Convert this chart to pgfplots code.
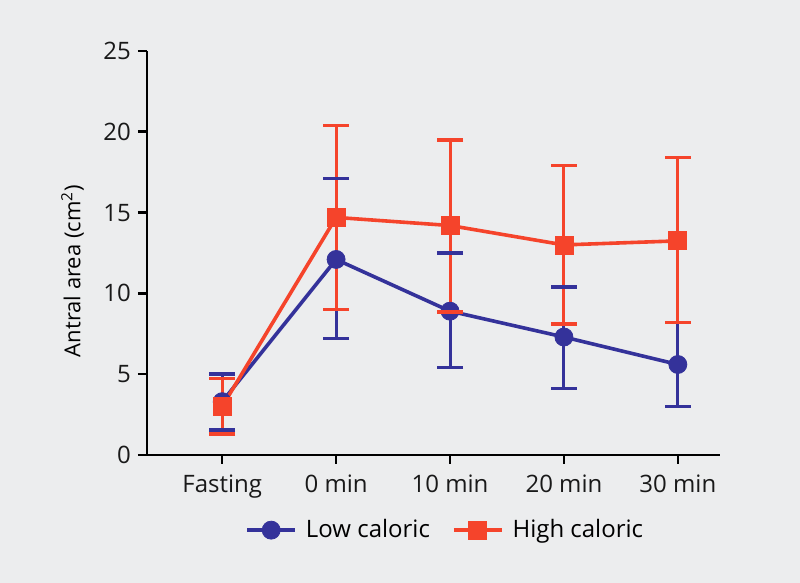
\documentclass[border=0pt]{standalone}
\usepackage{pgfplots}
\pgfplotsset{compat=1.18}
\usepackage{pgfplotstable}
\usepackage{fontspec}
\setmainfont{Open Sans}
\definecolor{bg}{RGB}{236,237,238}
\definecolor{lowc}{RGB}{52,50,154}
\definecolor{highc}{RGB}{245,68,43}
\pgfplotstableread{
x y ep em
0 3.3 1.7 1.75
1 12.1 5.0 4.9
2 8.9 3.6 3.5
3 7.3 3.1 3.2
4 5.6 2.6 2.6
}\lowdata
\pgfplotstableread{
x y ep em
0 3.0 1.75 1.7
1 14.7 5.7 5.7
2 14.2 5.3 5.35
3 13.0 4.9 4.9
4 13.25 5.15 5.05
}\highdata
\begin{document}
\begin{tikzpicture}
\fill[bg] (0,0) rectangle (400pt,291.5pt);
\useasboundingbox (0,0) rectangle (400pt,291.5pt);
\begin{axis}[
  scale only axis,
  width=286.5pt, height=202pt,
  at={(73.5pt,64pt)}, anchor=south west,
  xmin=-0.66, xmax=4.37, ymin=0, ymax=25,
  axis lines*=left,
  axis line style={line width=1.3pt, black},
  every tick/.style={line width=1.3pt, black},
  tick align=outside, major tick length=4.5pt,
  xtick={0,1,2,3,4},
  xticklabels={Fasting,0 min,10 min,20 min,30 min},
  ytick={0,5,10,15,20,25},
  /pgf/number format/assume math mode=true,
  tick label style={font=\fontsize{12}{14}\selectfont, text=black!90},
  xticklabel style={yshift=-2pt},
  ylabel={Antral area (cm\textsuperscript{2})},
  ylabel style={font=\fontsize{11}{13}\selectfont, yshift=3pt, xshift=-9pt},
  legend columns=2,
  legend style={at={(0.171,-0.186)}, anchor=west, draw=none, fill=none, inner xsep=0pt,
    font=\fontsize{12}{14}\selectfont,
    /tikz/every odd column/.append style={column sep=2.5pt},
    /tikz/every even column/.append style={column sep=9pt}},
  legend image code/.code={\draw[#1] (0pt,0pt) -- (12pt,0pt) -- (24pt,0pt); \path[#1] plot coordinates {(12pt,0pt)};},
]
% low caloric
\addplot[color=lowc, line width=1.8pt, mark=*, mark size=4.5pt, mark options={line width=0.4pt},
  error bars/.cd, y dir=both, y explicit, error mark=none,
  error bar style={line width=1.5pt, color=lowc}]
  table[x=x, y=y, y error plus=ep, y error minus=em]{\lowdata};
\addlegendentry{Low caloric}
\addplot[forget plot, only marks, color=lowc, mark=-, mark size=6.5pt, mark options={line width=1.7pt}]
  table[x=x, y expr=\thisrow{y}+\thisrow{ep}]{\lowdata};
\addplot[forget plot, only marks, color=lowc, mark=-, mark size=6.5pt, mark options={line width=1.7pt}]
  table[x=x, y expr=\thisrow{y}-\thisrow{em}]{\lowdata};
% high caloric
\addplot[color=highc, line width=1.8pt, mark=square*, mark size=4.5pt, mark options={line width=0.4pt},
  error bars/.cd, y dir=both, y explicit, error mark=none,
  error bar style={line width=1.5pt, color=highc}]
  table[x=x, y=y, y error plus=ep, y error minus=em]{\highdata};
\addlegendentry{High caloric}
\addplot[forget plot, only marks, color=highc, mark=-, mark size=6.5pt, mark options={line width=1.7pt}]
  table[x=x, y expr=\thisrow{y}+\thisrow{ep}]{\highdata};
\addplot[forget plot, only marks, color=highc, mark=-, mark size=6.5pt, mark options={line width=1.7pt}]
  table[x=x, y expr=\thisrow{y}-\thisrow{em}]{\highdata};
\end{axis}
\end{tikzpicture}
\end{document}
